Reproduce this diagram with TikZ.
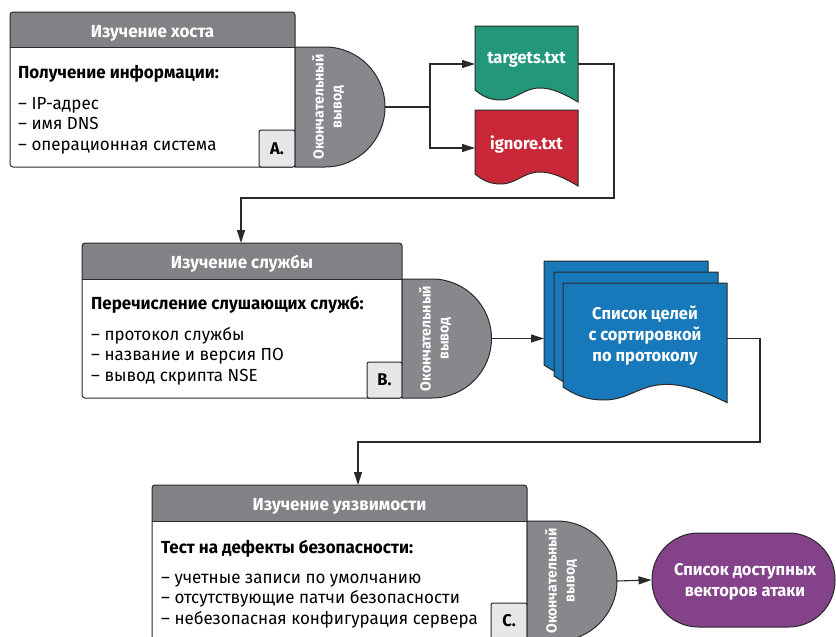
\documentclass[tikz,border=0pt]{standalone}
\usepackage{fontspec}
\setmainfont{Fira Sans}[FakeStretch=0.97]
\usetikzlibrary{arrows.meta,calc}
\definecolor{lineC}{HTML}{2B2A2A}
\definecolor{headgray}{HTML}{808285}
\definecolor{dgray}{HTML}{87888B}
\definecolor{lblgray}{HTML}{E6E7E8}
\definecolor{docgreen}{HTML}{23977A}
\definecolor{docred}{HTML}{C92838}
\definecolor{docblue}{HTML}{1879BA}
\definecolor{termpurple}{HTML}{84428A}
\newcommand\hdrfont{\bfseries\fontsize{17.5}{18}\selectfont}
\newcommand\ttlfont{\bfseries\fontsize{17.5}{18}\selectfont}
\newcommand\itmfont{\fontsize{17.5}{18}\selectfont}
\newcommand\lblfont{\bfseries\fontsize{17}{18}\selectfont}
\newcommand\dfont{\bfseries\fontsize{14.5}{18}\selectfont}
\newcommand\docfont{\bfseries\fontsize{17}{21}\selectfont}
% #1 left, #2 top, #3 right, #4 header bottom, #5 bottom
\newcommand\stageframe[5]{%
  \fill[white, rounded corners=3] (#1,#2) rectangle (#3,#5);
  \fill[headgray, rounded corners=3] (#1,#2) rectangle (#3,#4);
  \fill[headgray] (#1,{#4-5}) rectangle (#3,#4);
  \draw[boxline] (#1,#4) -- (#3,#4);
  \draw[boxline, rounded corners=3] (#1,#2) rectangle (#3,#5);
}
% D shape: #1 left, #2 centre y, #3 flat length, #4 radius
\newcommand\dshape[4]{%
  \draw[boxline, fill=dgray] (#1,{#2-#4}) -- ({#1+#3},{#2-#4}) arc(-90:90:#4) -- (#1,{#2+#4}) -- cycle;
}
% document shape: #1 fill, #2 x, #3 top, #4 W, #5 H, #6 amplitude
\newcommand\docshape[6]{%
  \draw[boxline, fill=#1] (#2,#3) -- ({#2+#4},#3) -- ({#2+#4},{#3+#5+1.2*#6})
    .. controls ({#2+0.87*#4},{#3+#5+0.4*#6}) and ({#2+0.75*#4},{#3+#5-0.2*#6}) .. ({#2+0.63*#4},{#3+#5-0.2*#6})
    .. controls ({#2+0.47*#4},{#3+#5-0.2*#6}) and ({#2+0.40*#4},{#3+#5+#6}) .. ({#2+0.25*#4},{#3+#5+#6})
    .. controls ({#2+0.13*#4},{#3+#5+#6}) and ({#2+0.06*#4},{#3+#5+0.5*#6}) .. (#2,{#3+#5}) -- cycle;
}
\tikzset{
  boxline/.style={draw=lineC, line width=1pt},
  conn/.style={draw=lineC, line width=1.1pt},
  arr/.style={conn, -{Triangle[length=13pt,width=8pt]}},
  hdr/.style={text=white, font=\hdrfont, anchor=base, inner sep=0},
  ttl/.style={font=\ttlfont, anchor=base west, inner sep=0, text=black},
  itm/.style={font=\itmfont, anchor=base west, inner sep=0, text=black},
  lbl/.style={boxline, fill=lblgray, rounded corners=2},
  lbltext/.style={font=\lblfont, inner sep=0, text=black},
  dtext/.style={rotate=90, text=white, font=\dfont, align=center, inner sep=0},
  doctext/.style={text=white, font=\docfont, align=center, inner sep=0},
}
\begin{document}
\begin{tikzpicture}[x=1pt,y=-1pt]
\useasboundingbox (0,0) rectangle (836,637);
\clip (0,0) rectangle (836,637);

% ---------- Stage A ----------
\stageframe{10}{12}{295}{47}{167}
\node[hdr] (ha) at (152.5,37) {Изучение хоста};
\node[ttl] (ta) at (18,78) {Получение информации:};
\node[itm] (a1) at (18,109) {– IP-адрес};
\node[itm] (a2) at (18,129.5) {– имя DNS};
\node[itm] (a3) at (18,150) {– операционная система};
\draw[lbl] (259,130) rectangle (295,167);
\node[lbltext] (la) at (277,149) {A.};
\dshape{295}{107}{30}{60}
\node[dtext] (da) at (328,107) {Окончательный\\вывод};
\coordinate (aout) at (385,107);

% ---------- documents ----------
\docshape{docgreen}{475}{26}{103}{64}{10}
\node[doctext] (tg) at (526.5,60) {targets.txt};
\docshape{docred}{475}{110}{103}{64}{10}
\node[doctext] (ig) at (526.5,144) {ignore.txt};
\coordinate (jn) at (430,107);
\coordinate (tgin) at (475,64);
\coordinate (igin) at (475,148);
\coordinate (tgout) at (578,64);
\coordinate (bin) at (241,243);

% ---------- Stage B ----------
\stageframe{82}{243}{402}{279}{398}
\node[hdr] (hb) at (242,268) {Изучение службы};
\node[ttl] (tb) at (91,309) {Перечисление слушающих служб:};
\node[itm] (b1) at (91,340) {– протокол службы};
\node[itm] (b2) at (91,360.5) {– название и версия ПО};
\node[itm] (b3) at (91,381) {– вывод скрипта NSE};
\draw[lbl] (367,362) rectangle (402,398);
\node[lbltext] (lb) at (384.5,380) {B.};
\dshape{402}{338.5}{30}{59.5}
\node[dtext] (db) at (435,338.5) {Окончательный\\вывод};
\coordinate (bout) at (491,338.5);

% ---------- stacked documents ----------
\docshape{docblue}{544}{261}{164}{104}{13}
\docshape{docblue}{554}{272}{164}{104}{13}
\docshape{docblue}{563}{283}{164}{104}{13}
\node[doctext] (st) at (645,336) {Список целей\\с сортировкой\\по протоколу};
\coordinate (stin) at (563,338.5);
\coordinate (stout) at (727,338.5);
\coordinate (cin) at (358,485);

% ---------- Stage C ----------
\stageframe{152}{485}{527}{521}{660}
\node[hdr] (hc) at (339.5,510) {Изучение уязвимости};
\node[ttl] (tc) at (161,553) {Тест на дефекты безопасности:};
\node[itm] (c1) at (161,583) {– учетные записи по умолчанию};
\node[itm] (c2) at (161,603.5) {– отсутствующие патчи безопасности};
\node[itm] (c3) at (161,624) {– небезопасная конфигурация сервера};
\draw[lbl] (491,603) rectangle (527,660);
\node[lbltext] (lc) at (509,621) {C.};
\dshape{527}{581}{30}{60}
\node[dtext] (dc) at (561,581) {Окончательный\\вывод};
\coordinate (cout) at (617,581);

% ---------- terminal ----------
\node[boxline, fill=termpurple, rounded corners=46.5, minimum width=183, minimum height=94,
      inner sep=0] (term) at (743.5,580) {};
\node[doctext] (tt) at (745,582) {Список доступных\\векторов атаки};

% ---------- connectors ----------
\draw[conn] (aout) -- (jn);
\draw[arr] (jn) |- (tgin);
\draw[arr] (jn) |- (igin);
\draw[arr] (tgout) -| (614,198) -| (bin);
\draw[arr] (bout) -- ($(stin)+(-19,0)$);
\draw[arr] (stout) -| (760,442) -| (cin);
\draw[arr] (cout) -- (term.west);
\end{tikzpicture}
\end{document}
